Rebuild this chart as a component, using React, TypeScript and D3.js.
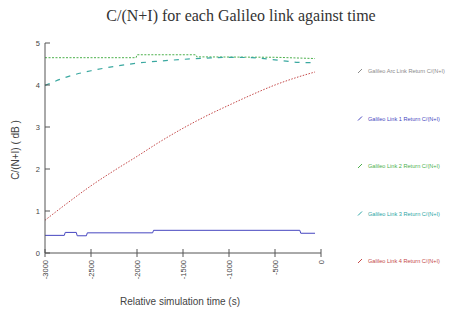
import { useEffect, useRef } from "react";
import * as d3 from "d3";

// relative simulation time (s)
const times = [-3000, -2750, -2500, -2250, -2000, -1750, -1500, -1250, -1000, -750, -500, -250, -65];

const link1Points: [number, number][] = [
  [-3000, 0.42], [-2790, 0.42], [-2780, 0.49], [-2660, 0.49], [-2650, 0.41],
  [-2550, 0.41], [-2540, 0.48], [-1830, 0.48], [-1820, 0.54], [-230, 0.54],
  [-220, 0.47], [-65, 0.47],
];
const link2Points: [number, number][] = [
  [-3000, 4.65], [-2010, 4.65], [-2000, 4.72], [-1360, 4.72], [-1350, 4.67],
  [-500, 4.66], [-65, 4.63],
];
const link3Values = [3.99, 4.2, 4.34, 4.44, 4.52, 4.57, 4.61, 4.64, 4.66, 4.65, 4.6, 4.54, 4.53];
const link4Values = [0.78, 1.2, 1.6, 1.96, 2.3, 2.65, 2.97, 3.26, 3.52, 3.77, 4.0, 4.19, 4.31];

const xTicks = [-3000, -2500, -2000, -1500, -1000, -500, 0];
const yTicks = [0, 1, 2, 3, 4, 5];

const legendLabels = [
  "Galileo Arc Link Return C/(N+I)",
  "Galileo Link 1 Return C/(N+I)",
  "Galileo Link 2 Return C/(N+I)",
  "Galileo Link 3 Return C/(N+I)",
  "Galileo Link 4 Return C/(N+I)",
];
const legendColors = ["#8a8a8a", "#4646c0", "#4cb04c", "#2aa5a5", "#c44848"];

export default function App() {
  const svgRef = useRef<SVGSVGElement>(null);

  useEffect(() => {
    if (!svgRef.current) return;
    const svg = d3.select(svgRef.current);
    svg.selectAll("*").remove();

    const x = d3.scaleLinear().domain([-3000, 0]).range([45, 321]);
    const y = d3.scaleLinear().domain([0, 5]).range([253, 43]);

    // title
    svg.append("text")
      .attr("x", 241)
      .attr("y", 21)
      .attr("text-anchor", "middle")
      .attr("font-family", "Liberation Serif, Times New Roman, serif")
      .attr("font-size", 16)
      .attr("fill", "#333")
      .text("C/(N+I) for each Galileo link against time");

    const stepLine = d3.line<[number, number]>()
      .x((d) => x(d[0]))
      .y((d) => y(d[1]));
    const smoothLine = d3.line<[number, number]>()
      .x((d) => x(d[0]))
      .y((d) => y(d[1]))
      .curve(d3.curveMonotoneX);

    const series = [
      { pts: link1Points, color: legendColors[1], dash: "none", w: 1, gen: stepLine },
      { pts: link2Points, color: legendColors[2], dash: "2,1.5", w: 1, gen: stepLine },
      { pts: times.map((t, i) => [t, link3Values[i]] as [number, number]), color: "#3aa8a0", dash: "5,6", w: 1.2, gen: smoothLine },
      { pts: times.map((t, i) => [t, link4Values[i]] as [number, number]), color: legendColors[4], dash: "1.5,1.5", w: 1, gen: smoothLine },
    ];

    series.forEach((s) => {
      svg.append("path")
        .datum(s.pts)
        .attr("fill", "none")
        .attr("stroke", s.color)
        .attr("stroke-width", s.w)
        .attr("stroke-dasharray", s.dash)
        .attr("d", s.gen);
    });

    // axes
    const axisColor = "#555";
    svg.append("line")
      .attr("x1", x(-3000)).attr("x2", x(0))
      .attr("y1", y(0)).attr("y2", y(0))
      .attr("stroke", axisColor);
    svg.append("line")
      .attr("x1", x(-3000)).attr("x2", x(-3000))
      .attr("y1", y(0)).attr("y2", y(5))
      .attr("stroke", axisColor);

    const xt = svg.append("g").selectAll("g").data(xTicks).enter().append("g");
    xt.append("line")
      .attr("x1", (d) => x(d)).attr("x2", (d) => x(d))
      .attr("y1", y(0) - 4).attr("y2", y(0) + 4)
      .attr("stroke", axisColor);
    xt.append("text")
      .attr("transform", (d) => `translate(${x(d) + 2.5},260) rotate(-90)`)
      .attr("text-anchor", "end")
      .attr("font-family", "Liberation Sans, Arial, sans-serif")
      .attr("font-size", 7.5)
      .attr("fill", "#444")
      .text((d) => String(d));

    const yt = svg.append("g").selectAll("g").data(yTicks).enter().append("g");
    yt.append("line")
      .attr("x1", x(-3000)).attr("x2", x(-3000) + 5)
      .attr("y1", (d) => y(d)).attr("y2", (d) => y(d))
      .attr("stroke", axisColor);
    yt.append("text")
      .attr("x", 40)
      .attr("y", (d) => y(d) + 2.5)
      .attr("text-anchor", "end")
      .attr("font-family", "Liberation Sans, Arial, sans-serif")
      .attr("font-size", 7.5)
      .attr("fill", "#444")
      .text((d) => String(d));

    // axis labels
    svg.append("text")
      .attr("x", 180)
      .attr("y", 305)
      .attr("text-anchor", "middle")
      .attr("font-family", "Liberation Sans, Arial, sans-serif")
      .attr("font-size", 10)
      .attr("fill", "#444")
      .text("Relative simulation time (s)");
    svg.append("text")
      .attr("transform", "translate(19,150) rotate(-90)")
      .attr("text-anchor", "middle")
      .attr("font-family", "Liberation Sans, Arial, sans-serif")
      .attr("font-size", 10)
      .attr("fill", "#444")
      .text("C/(N+I) ( dB )");

    // legend
    const lg = svg.append("g").selectAll("g").data(legendLabels).enter().append("g")
      .attr("transform", (_, i) => `translate(358,${71 + i * 47.5})`);
    lg.append("line")
      .attr("x1", 0).attr("x2", 4)
      .attr("y1", 2).attr("y2", -2)
      .attr("stroke", (_, i) => legendColors[i])
      .attr("stroke-width", 1);
    lg.append("text")
      .attr("x", 10)
      .attr("y", 2)
      .attr("font-family", "Liberation Sans, Arial, sans-serif")
      .attr("font-size", 5.6)
      .attr("fill", (_, i) => legendColors[i])
      .text((d) => d);
  }, []);

  return (
    <svg
      ref={svgRef}
      width={457}
      height={311}
      style={{ position: "absolute", left: 0, top: 0, background: "#fff" }}
    />
  );
}
